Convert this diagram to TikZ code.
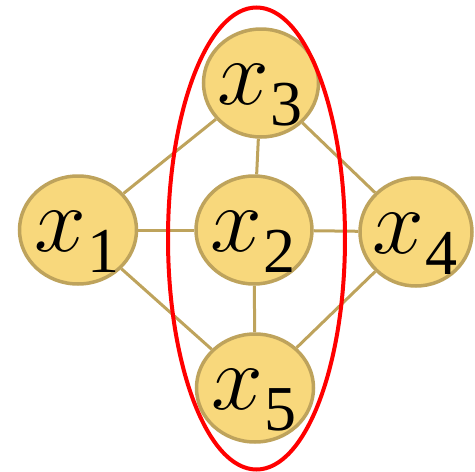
\documentclass[tikz,border=0pt]{standalone}
\usepackage{fix-cm}
\usepackage{fontspec}
\setmainfont{Liberation Serif}
\usetikzlibrary{shapes.geometric}
\definecolor{goldfill}{RGB}{248,216,124}
\definecolor{goldline}{RGB}{190,163,92}
\newcommand{\varlab}[1]{{\fontsize{93}{93}\selectfont$x$}\kern1pt\raisebox{-21pt}{\fontsize{64}{64}\selectfont #1}}
\tikzset{
  vnode/.style={ellipse, draw=goldline, fill=goldfill, line width=3.5pt, inner sep=0pt, minimum width=#1, minimum height=108pt},
  vlab/.style={anchor=base, inner sep=0pt},
  edge/.style={draw=goldline, line width=3pt},
  group/.style={draw=red, line width=4pt}
}
\begin{document}
\begin{tikzpicture}[x=1pt,y=-1pt]
\useasboundingbox (0,0) rectangle (475,472);
\node[vnode=115pt] (x3) at (261,83) {};
\node[vnode=117pt] (x1) at (78,230) {};
\node[vnode=116pt] (x2) at (254,230) {};
\node[vnode=112pt] (x4) at (416,232) {};
\node[vnode=117pt] (x5) at (255,388) {};
\draw[edge] (x1) -- (x3);
\draw[edge] (x1) -- (x2);
\draw[edge] (x1) -- (x5);
\draw[edge] (x3) -- (x2);
\draw[edge] (x3) -- (x4);
\draw[edge] (x2) -- (x4);
\draw[edge] (x2) -- (x5);
\draw[edge] (x5) -- (x4);
\node[vlab] (l3) at ([yshift=-21pt,xshift=-1pt]x3.center) {\varlab{3}};
\node[vlab] (l1) at ([yshift=-21pt,xshift=-1pt]x1.center) {\varlab{1}};
\node[vlab] (l2) at ([yshift=-21pt,xshift=-1pt]x2.center) {\varlab{2}};
\node[vlab] (l4) at ([yshift=-21pt,xshift=-1pt]x4.center) {\varlab{4}};
\node[vlab] (l5) at ([yshift=-21pt,xshift=-1pt]x5.center) {\varlab{5}};
\draw[group] (256.5,238.5) ellipse [x radius=88.5, y radius=231];
\end{tikzpicture}
\end{document}
